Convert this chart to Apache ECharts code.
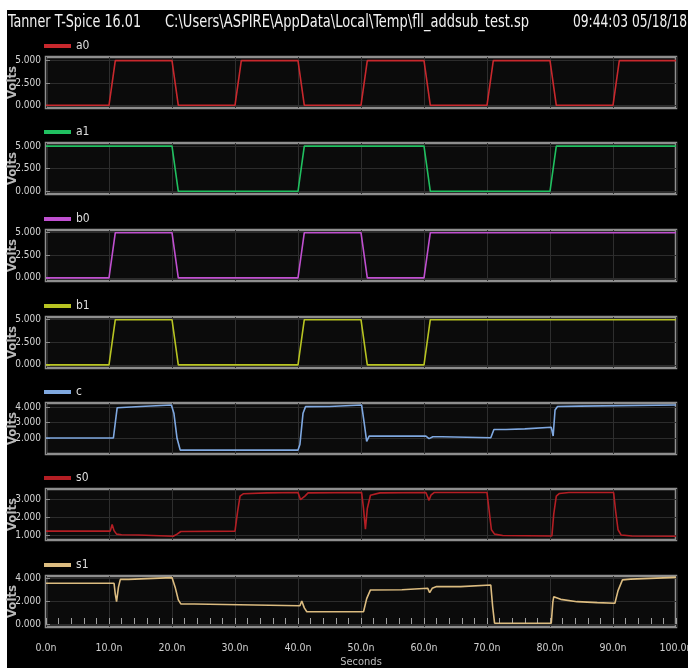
<!DOCTYPE html>
<html>
<head>
<meta charset="utf-8">
<script src="https://cdn.jsdelivr.net/npm/echarts@6/dist/echarts.min.js"></script>
<style>
html,body{margin:0;padding:0;background:#fff;}
#wrap{position:relative;width:688px;height:668px;overflow:hidden;background:#fff;}
#bg{position:absolute;left:7px;top:10px;width:681px;height:658px;background:#000;}
#chart{position:absolute;left:0;top:0;width:688px;height:668px;}
</style>
</head>
<body>
<div id="wrap"><div id="bg"></div><div id="chart"></div></div>
<script>
// ---- data ----
const signalNames = ['a0', 'a1', 'b0', 'b1', 'c', 's0', 's1'];
const xTickLabels = ['0.0n','10.0n','20.0n','30.0n','40.0n','50.0n','60.0n','70.0n','80.0n','90.0n','100.0n'];
const headerTexts = ['Tanner T-Spice 16.01', 'C:\\Users\\ASPIRE\\AppData\\Local\\Temp\\fll_addsub_test.sp', '09:44:03 05/18/18'];

// digital inputs: shared transition times (ns)
const digT = [0,10,11,20,21,30,31,40,41,50,51,60,61,70,71,80,81,90,91,100];
const a0V  = [0,0,5,5,0,0,5,5,0,0,5,5,0,0,5,5,0,0,5,5];
const a1V  = [5,5,5,5,0,0,0,0,5,5,5,5,0,0,0,0,5,5,5,5];
const b0V  = [0,0,5,5,0,0,0,0,5,5,0,0,5,5,5,5,5,5,5,5];
const b1V  = [0,0,5,5,0,0,0,0,5,5,0,0,5,5,5,5,5,5,5,5];

// outputs
const cT = [0,10.7,11.0,11.3,11.6,15.0,15.2,19.9,20.3,20.8,21.3,40.0,40.3,40.8,41.2,45.0,45.2,50.1,50.5,50.9,51.3,60.3,60.8,61.4,62.9,63.1,70.6,71.1,73.0,73.2,76.0,76.2,80.2,80.5,80.8,81.2,84.8,85.0,100];
const cV = [2.02,2.02,3.0,3.95,4.03,4.03,4.12,4.12,3.6,2.0,1.25,1.25,1.6,3.6,4.02,4.03,4.12,4.12,3.0,1.8,2.14,2.14,1.98,2.1,2.1,2.04,2.04,2.56,2.56,2.6,2.6,2.7,2.7,2.15,3.8,4.03,4.05,4.12,4.12];

const s0T = [0,10.2,10.5,10.8,11.2,12,14.7,15.0,20.2,20.8,21.4,30.0,30.4,30.8,31.3,35,40.0,40.4,40.7,41.1,41.6,50.1,50.4,50.7,51.0,51.5,53,60.3,60.8,61.1,61.6,70.0,70.3,70.7,71.2,72.5,80.3,80.6,81.0,81.5,83,90.1,90.4,90.8,91.3,93,100];
const s0V = [1.22,1.22,1.6,1.25,1.05,1.02,1.0,0.93,0.93,1.05,1.2,1.22,2.3,3.2,3.33,3.38,3.4,3.0,2.94,3.2,3.38,3.4,2.5,1.33,2.5,3.25,3.38,3.4,2.96,3.25,3.4,3.4,2.5,1.3,1.05,0.97,0.95,2.2,3.2,3.35,3.4,3.4,2.4,1.3,1.0,0.95,0.93];

const s1T = [0,10.8,11.0,11.2,11.5,11.8,13.1,13.3,20.0,20.5,21.0,21.4,23.5,23.8,40.3,40.6,41.0,41.4,50.4,50.9,51.5,56.5,56.7,60.6,60.9,61.3,62.0,65.8,66.0,70.6,70.9,71.2,80.2,80.45,80.6,81.7,84.3,87.5,90.3,90.8,91.5,91.8,92.8,93.0,100];
const s1V = [3.54,3.54,2.6,1.95,3.2,3.88,3.88,4.03,4.03,3.2,2.1,1.75,1.74,1.59,1.59,2.0,1.4,1.07,1.07,2.2,2.96,2.98,3.1,3.1,2.72,3.1,3.25,3.25,3.39,3.39,1.5,0.07,0.08,1.9,2.37,2.14,1.94,1.86,1.8,2.9,3.83,3.9,3.9,4.05,4.05];

// axis ranges and tick values per panel (volts)
const yMin = [-0.3,-0.3,-0.35,-0.35,1.0,0.72,-0.26];
const yMax = [5.4,5.35,5.3,5.3,4.25,3.6,4.17];
const yTicks = [[0,2.5,5],[0,2.5,5],[0,2.5,5],[0,2.5,5],[2,3,4],[1,2,3],[0,2,4]];

// ---- style (layout) ----
const colors = ['#c8282d','#20c060','#c050d0','#b8c422','#7fa8e0','#b41e24','#dcbc80'];
const tops = [57,143,230,317,403,489,576];
const panelH = 51;
const FONT = "'Liberation Sans Narrow','DejaVu Sans Condensed','Liberation Sans',Arial,sans-serif";
const headerX = [8, 165, 573];
const headerW = [133, 364, 114];
const headerFont = "18px " + FONT;

const ctx = document.createElement('canvas').getContext('2d');
ctx.font = headerFont;
const header = headerTexts.map((txt, i) => {
  const w = ctx.measureText(txt).width;
  return {type: 'text', x: headerX[i], y: 13, scaleX: headerW[i] / w, silent: true,
    style: {text: txt, font: headerFont, fill: '#f2f2f2', textVerticalAlign: 'top', textAlign: 'left'}};
});

const series = [
  {t: digT, v: a0V}, {t: digT, v: a1V}, {t: digT, v: b0V}, {t: digT, v: b1V},
  {t: cT, v: cV}, {t: s0T, v: s0V}, {t: s1T, v: s1V}
];

const grids = [], xAxes = [], yAxes = [], seriesOpt = [], legends = [];
signalNames.forEach((name, i) => {
  const last = i === signalNames.length - 1;
  grids.push({left: 46, right: 12, top: tops[i], height: panelH, show: true,
    containLabel: false, outerBoundsMode: 'none',
    backgroundColor: '#0b0b0b', borderColor: '#8e8e8e', borderWidth: 2.5});
  xAxes.push({type: 'value', gridIndex: i, min: 0, max: 100, interval: 10,
    axisLine: {show: false},
    axisTick: {show: last, inside: true, length: 6, lineStyle: {color: '#a0a0a0'}},
    minorTick: {show: last, splitNumber: 5, length: 6, lineStyle: {color: '#a0a0a0'}},
    splitLine: {show: true, lineStyle: {color: '#2e2e2e', width: 1}},
    axisLabel: {show: last, margin: 16, color: '#d0d0d0', fontSize: 10.5, fontFamily: FONT,
      formatter: (v) => xTickLabels[Math.round(v / 10)]},
    name: last ? 'Seconds' : '', nameLocation: 'middle', nameGap: 30, nameMoveOverlap: false,
    nameTextStyle: {color: '#bdbdbd', fontSize: 11, fontFamily: FONT}
  });
  yAxes.push({type: 'value', gridIndex: i, min: yMin[i], max: yMax[i],
    axisLine: {show: false},
    axisTick: {show: true, inside: true, length: 4, customValues: yTicks[i], lineStyle: {color: '#8a8a8a'}},
    splitLine: {show: true, lineStyle: {color: '#2c2c2c', width: 1}},
    axisLabel: {customValues: yTicks[i], margin: 5, color: '#d6d6d6', fontSize: 10, fontFamily: FONT,
      formatter: (v) => v.toFixed(3)},
    name: 'Volts', nameLocation: 'middle', nameGap: 27, nameRotate: 90, nameMoveOverlap: false,
    nameTextStyle: {color: '#b8b8b8', fontSize: 13, fontWeight: 'bold', fontFamily: FONT}
  });
  seriesOpt.push({name: name, type: 'line', xAxisIndex: i, yAxisIndex: i,
    data: series[i].t.map((t, k) => [t, series[i].v[k]]),
    showSymbol: false, symbol: 'none', animation: false,
    lineStyle: {color: colors[i], width: 1.6}, itemStyle: {color: colors[i]}
  });
  legends.push({data: [name], left: 44, top: tops[i] - 17, icon: 'rect',
    itemWidth: 27, itemHeight: 4, itemGap: 4, padding: 0,
    textStyle: {color: '#dedede', fontSize: 12, fontFamily: FONT}, selectedMode: false});
});

const chart = echarts.init(document.getElementById('chart'), null, {renderer: 'canvas'});
chart.setOption({
  backgroundColor: 'transparent',
  animation: false,
  graphic: header,
  legend: legends,
  grid: grids,
  xAxis: xAxes,
  yAxis: yAxes,
  series: seriesOpt
});
</script>
</body>
</html>
